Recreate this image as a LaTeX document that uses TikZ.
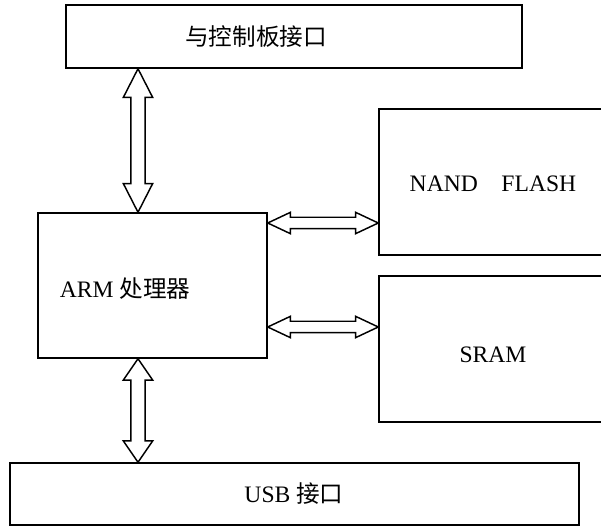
\documentclass[tikz,border=0pt]{standalone}
\usepackage{fontspec}
\setmainfont{Liberation Serif}
\newfontfamily\cjk{Noto Sans CJK SC}
\usepackage{tikz}
\usetikzlibrary{positioning, calc}

\tikzset{
  blk/.style={draw, line width=1.1pt, inner sep=0pt},
  lbl/.style={font=\fontsize{17.7}{21}\selectfont, inner sep=0pt},
  busline/.style={line width=1.1pt, line join=miter},
}

% two-headed bus arrow: ends, head length, head half width, shaft half width
\newcommand{\dblarrow}[5]{%
  \coordinate (da) at (#1);
  \coordinate (db) at (#2);
  \coordinate (ha) at ($(da)!#3!(db)$);
  \coordinate (hb) at ($(db)!#3!(da)$);
  \draw[busline] (da) -- ($(ha)!#4!90:(db)$) -- ($(ha)!#5!90:(db)$)
    -- ($(hb)!#5!-90:(da)$) -- ($(hb)!#4!-90:(da)$) -- (db)
    -- ($(hb)!#4!90:(da)$) -- ($(hb)!#5!90:(da)$)
    -- ($(ha)!#5!-90:(db)$) -- ($(ha)!#4!-90:(db)$) -- cycle;
}

\begin{document}
\begin{tikzpicture}[x=0.75pt, y=-0.75pt]
  \useasboundingbox (0,0) rectangle (601,527);

  % boxes
  \node[blk, minimum width=456*0.75pt, minimum height=63*0.75pt] (panel) at (294,36.5) {};
  \node[blk, minimum width=229*0.75pt, minimum height=145*0.75pt] (arm) at (152.5,285.5) {};
  \node[blk, minimum width=240*0.75pt, minimum height=146*0.75pt] (nand) at (499,182) {};
  \node[blk, minimum width=240*0.75pt, minimum height=146*0.75pt] (sram) at (499,349) {};
  \node[blk, minimum width=569*0.75pt, minimum height=62*0.75pt] (usb) at (294.5,494) {};

  % labels
  \node[lbl] (panel-txt) at (256,37) {\cjk 与控制板接口};
  \node[lbl] (arm-txt) at (125,289) {ARM \cjk 处理器};
  \node[lbl] (nand-txt) at (493,184) {NAND\quad FLASH};
  \node[lbl] (sram-txt) at (493,355) {SRAM};
  \node[lbl] (usb-txt) at (294,494) {USB {\cjk 接口}};

  % buses
  \coordinate (vbus) at (138,0);
  \coordinate (hbus1) at (0,223);
  \coordinate (hbus2) at (0,327);
  \dblarrow{panel.south -| vbus}{arm.north -| vbus}{21.5pt}{11pt}{5.4pt}
  \dblarrow{arm.south -| vbus}{usb.north -| vbus}{16pt}{11pt}{5.4pt}
  \dblarrow{arm.east |- hbus1}{nand.west |- hbus1}{17pt}{8pt}{4.3pt}
  \dblarrow{arm.east |- hbus2}{sram.west |- hbus2}{17pt}{8pt}{4.3pt}
\end{tikzpicture}
\end{document}
